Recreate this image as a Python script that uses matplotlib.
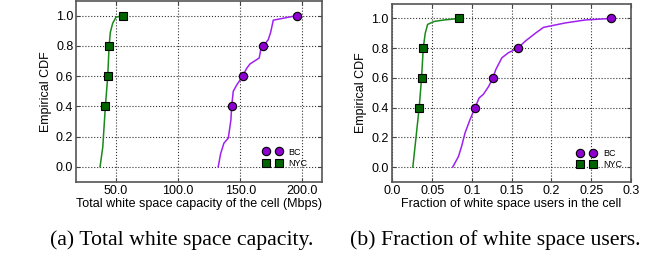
import matplotlib
matplotlib.use("Agg")
import matplotlib.pyplot as plt
from matplotlib.lines import Line2D

# --- data ---
cdf_bc_cap = [0.0, 0.086, 0.157, 0.19, 0.31, 0.4, 0.5, 0.54, 0.6, 0.65, 0.68, 0.72, 0.77, 0.8, 0.84, 0.89, 0.97, 1.0]
cap_bc = [132.2, 134.1, 136.8, 140.3, 142.4, 143.0, 144.3, 147.0, 151.8, 155.0, 157.7, 165.2, 166.3, 168.4, 172.4, 174.4, 176.5, 195.3]

cdf_nyc_cap = [0.0, 0.13, 0.4, 0.6, 0.8, 0.89, 0.95, 0.99, 1.0]
cap_nyc = [37.1, 39.3, 41.4, 43.3, 44.4, 45.4, 47.3, 50.0, 55.9]

cdf_bc_frac = [0.0, 0.07, 0.14, 0.23, 0.32, 0.4, 0.465, 0.49, 0.54, 0.6, 0.656, 0.735, 0.77, 0.8, 0.847, 0.9, 0.94, 0.97, 0.99, 1.0]
frac_bc = [0.0758, 0.0829, 0.087, 0.0913, 0.0976, 0.1039, 0.109, 0.1144, 0.1207, 0.1263, 0.130, 0.1376, 0.146, 0.1578, 0.167, 0.1797, 0.190, 0.2176, 0.2428, 0.2753]

cdf_nyc_frac = [0.0, 0.4, 0.6, 0.8, 0.9, 0.96, 0.98, 0.99, 1.0]
frac_nyc = [0.0256, 0.0336, 0.0366, 0.0387, 0.0412, 0.0442, 0.0525, 0.065, 0.084]

marker_levels = [0.4, 0.6, 0.8, 1.0]
series_names = ["BC", "NYC"]
cap_ticks = [50.0, 100.0, 150.0, 200.0]
frac_ticks = [0.0, 0.05, 0.1, 0.15, 0.2, 0.25, 0.3]
frac_tick_labels = ["0.0", "0.05", "0.1", "0.15", "0.2", "0.25", "0.3"]
y_ticks = [0.0, 0.2, 0.4, 0.6, 0.8, 1.0]
xlabel_a = "Total white space capacity of the cell (Mbps)"
xlabel_b = "Fraction of white space users in the cell"
caption_a = "(a) Total white space capacity."
caption_b = "(b) Fraction of white space users."

BC_LINE = "#a020f0"
BC_FACE = "#8e00d0"
NYC_LINE = "#1a8a1a"
NYC_FACE = "#006400"

plt.rcParams['font.family'] = ['Liberation Sans', 'DejaVu Sans']

fig = plt.figure(figsize=(6.5, 2.57), dpi=100)
ax1 = fig.add_axes([0.117, 0.292, 0.378, 0.706])
ax2 = fig.add_axes([0.6026, 0.292, 0.368, 0.694])


def marker_idx(cdf):
    return [i for i, v in enumerate(cdf) if any(abs(v - m) < 1e-9 for m in marker_levels)]


def draw(ax, xb, yb, xn, yn, leg_anchor):
    ax.plot(xb, yb, color=BC_LINE, lw=1.1, zorder=3)
    ib = marker_idx(yb)
    ax.plot([xb[i] for i in ib], [yb[i] for i in ib], ls='none', marker='o', ms=6,
            mfc=BC_FACE, mec='black', mew=0.8, zorder=4)
    ax.plot(xn, yn, color=NYC_LINE, lw=1.1, zorder=3)
    inn = marker_idx(yn)
    ax.plot([xn[i] for i in inn], [yn[i] for i in inn], ls='none', marker='s', ms=6,
            mfc=NYC_FACE, mec='black', mew=0.8, zorder=4)
    ax.set_ylim(-0.1, 1.1)
    ax.set_yticks(y_ticks)
    ax.set_yticklabels([f"{v:.1f}" for v in y_ticks])
    ax.grid(True, ls=':', color='black', lw=0.8, alpha=0.8)
    ax.tick_params(direction='in', top=True, right=True, labelsize=9, length=3, color='#444444', pad=2)
    for s in ax.spines.values():
        s.set_color('#555555')
        s.set_linewidth(1.2)
    ax.set_ylabel("Empirical CDF", fontsize=9, labelpad=3)
    handles = [
        Line2D([], [], ls='none', marker='o', ms=6, mfc=BC_FACE, mec='black', mew=0.8),
        Line2D([], [], ls='none', marker='s', ms=6, mfc=NYC_FACE, mec='black', mew=0.8),
    ]
    ax.legend(handles, series_names, loc='lower right', numpoints=2, frameon=False,
              fontsize=6.5, handlelength=2.04, handletextpad=0.8, labelspacing=0.3,
              borderaxespad=0.0, borderpad=0.0, bbox_to_anchor=leg_anchor)


draw(ax1, cap_bc, cdf_bc_cap, cap_nyc, cdf_nyc_cap, (0.943, 0.075))
ax1.set_xlim(17.8, 215.5)
ax1.set_xticks(cap_ticks)
ax1.set_xticklabels([f"{v:.1f}" for v in cap_ticks])
ax1.set_xlabel(xlabel_a, fontsize=9, labelpad=1)

draw(ax2, frac_bc, cdf_bc_frac, frac_nyc, cdf_nyc_frac, (0.962, 0.07))
ax2.set_xlim(-0.001, 0.3)
ax2.set_xticks(frac_ticks)
ax2.set_xticklabels(frac_tick_labels)
ax2.set_xlabel(xlabel_b, fontsize=9, labelpad=1)

fig.text(181.5 / 650, 1 - 245 / 257, caption_a, ha='center', va='baseline',
         family=['Liberation Serif', 'DejaVu Serif'], fontsize=15.7)
fig.text(495 / 650, 1 - 245 / 257, caption_b, ha='center', va='baseline',
         family=['Liberation Serif', 'DejaVu Serif'], fontsize=15.7)

fig.savefig("out.png", dpi=100)
